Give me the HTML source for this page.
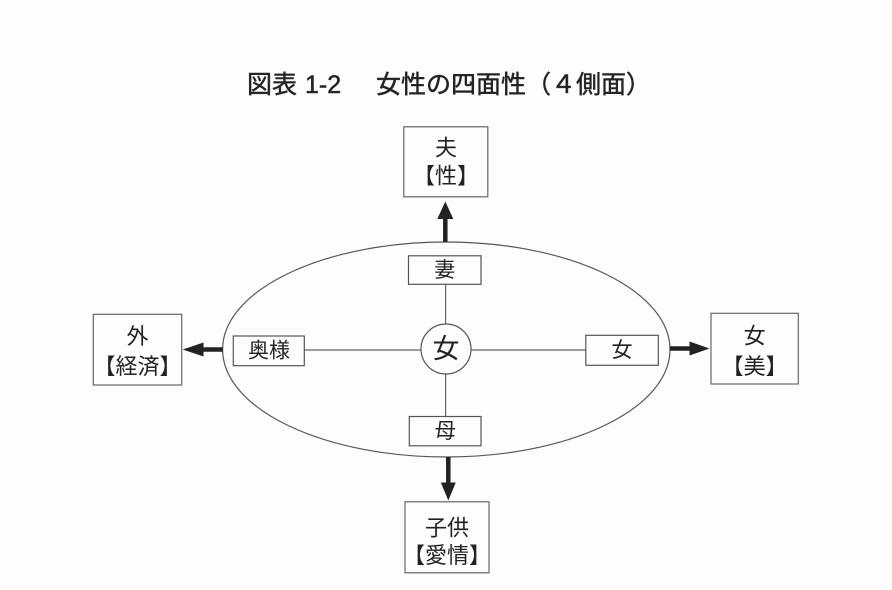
<!DOCTYPE html>
<html><head><meta charset="utf-8"><style>
html,body{margin:0;padding:0;background:#fdfdfd;}
svg{display:block;}
text{font-family:"Liberation Sans","Noto Sans CJK JP",sans-serif;fill:#222;}
</style></head><body>
<svg width="892" height="590" viewBox="0 0 892 590" xmlns="http://www.w3.org/2000/svg">
<rect width="892" height="590" fill="#fdfdfd"/>
<!-- title -->
<g font-size="25" stroke="#2a2a2a" stroke-width="0.5">
<text x="247" y="93">図表</text>
<text x="305" y="93">1-2</text>
<text x="376" y="93">女性の四面性（４側面）</text>
</g>
<!-- ellipse -->
<ellipse cx="446.3" cy="349.5" rx="223.7" ry="107.5" fill="none" stroke="#555" stroke-width="1.2"/>
<!-- connectors -->
<g stroke="#666" stroke-width="1.2">
<line x1="445.6" y1="284" x2="445.6" y2="324"/>
<line x1="445.6" y1="374" x2="445.6" y2="416.5"/>
<line x1="304" y1="350" x2="421" y2="350"/>
<line x1="471" y1="350" x2="586" y2="350"/>
</g>
<!-- center circle -->
<circle cx="446" cy="349" r="25" fill="#fdfdfd" stroke="#555" stroke-width="1.2"/>
<text x="446" y="349" font-size="27" text-anchor="middle" dominant-baseline="central">女</text>
<!-- inner boxes -->
<g fill="#fdfdfd" stroke="#555" stroke-width="1.2">
<rect x="408.5" y="255.8" width="72.5" height="28.5"/>
<rect x="409.3" y="416.5" width="71.7" height="29.3"/>
<rect x="233.3" y="336" width="71" height="29.7"/>
<rect x="585.8" y="335.3" width="72.5" height="30"/>
</g>
<g font-size="21" text-anchor="middle" dominant-baseline="central">
<text x="444.8" y="270.5">妻</text>
<text x="445.2" y="431.5">母</text>
<text x="269" y="351">奥様</text>
<text x="622" y="350.5">女</text>
</g>
<!-- outer boxes -->
<g fill="#fdfdfd" stroke="#666" stroke-width="1.2">
<rect x="403.8" y="126.8" width="84" height="70"/>
<rect x="93.3" y="314.3" width="88.4" height="70.7"/>
<rect x="711" y="313.3" width="87.3" height="70.7"/>
<rect x="405" y="501.8" width="84" height="71"/>
</g>
<g font-size="22" text-anchor="middle" dominant-baseline="central">
<text x="446" y="148">夫</text>
<text x="446" y="176">【性】</text>
<text x="137.5" y="336.5">外</text>
<text x="137.5" y="366.5">【経済】</text>
<text x="754.6" y="336">女</text>
<text x="754.6" y="366.5">【美】</text>
<text x="447" y="528">子供</text>
<text x="447" y="555.5">【愛情】</text>
</g>
<!-- arrows -->
<g fill="#222" stroke="#222">
<line x1="445.3" y1="242" x2="445.3" y2="214" stroke-width="4.5"/>
<polygon points="445.3,201.5 437.3,219 453.3,219" stroke="none"/>
<line x1="448.3" y1="457" x2="448.3" y2="486" stroke-width="4.5"/>
<polygon points="448.3,500.5 440.8,482.5 455.8,482.5" stroke="none"/>
<line x1="222.7" y1="349.5" x2="199" y2="349.5" stroke-width="4.5"/>
<polygon points="182.7,349.5 203.5,342.5 203.5,356.5" stroke="none"/>
<line x1="670" y1="348.5" x2="694" y2="348.5" stroke-width="4.5"/>
<polygon points="709.5,348.5 689.5,341.5 689.5,355.5" stroke="none"/>
</g>
</svg>
</body></html>
